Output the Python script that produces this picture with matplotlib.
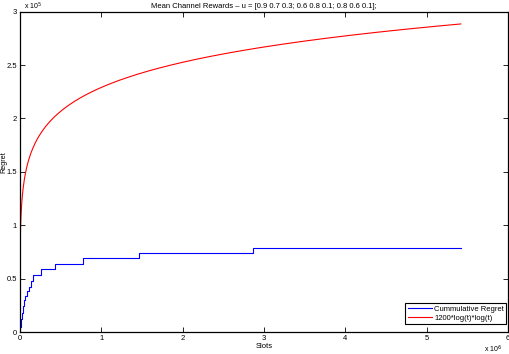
import matplotlib
matplotlib.use('Agg')
import matplotlib.pyplot as plt
import numpy as np
from matplotlib.ticker import FuncFormatter

plt.rcParams['font.family'] = ['Liberation Sans', 'DejaVu Sans']

# cumulative regret: step change times (x1e6 slots) and regret levels (x1e5)
step_t = [0, 0.004, 0.012, 0.025, 0.037, 0.049, 0.065, 0.083, 0.107, 0.132,
          0.164, 0.256, 0.428, 0.774, 1.47, 2.86, 5.42]
step_v = [0, 0.05, 0.12, 0.18, 0.24, 0.30, 0.34, 0.38, 0.42, 0.48,
          0.53, 0.59, 0.64, 0.69, 0.74, 0.79, 0.79]
t_max = 5.42e6

title = 'Mean Channel Rewards \u2013 u = [0.9 0.7 0.3; 0.6 0.8 0.1; 0.8 0.6 0.1];'

t = np.linspace(1, t_max, 2000)
bound = 1200 * np.log(t) * np.log(t)

fig = plt.figure(figsize=(5.10, 3.54), dpi=100)
ax = fig.add_axes([0.039, 0.062, 0.957, 0.905])

ax.plot(np.array(step_t) * 1e6, np.array(step_v) * 1e5, color='blue',
        lw=0.8, drawstyle='steps-post', label='Cummulative Regret')
ax.plot(t, bound, color='red', lw=0.8, label='1200*log(t)*log(t)')

ax.set_xlim(0, 6e6)
ax.set_ylim(0, 3e5)
ax.set_xticks(np.arange(0, 7) * 1e6)
ax.set_yticks(np.arange(0, 3.01, 0.5) * 1e5)
ax.xaxis.set_major_formatter(FuncFormatter(lambda v, p: '%g' % (v / 1e6)))
ax.yaxis.set_major_formatter(FuncFormatter(lambda v, p: '%g' % (v / 1e5)))
ax.tick_params(direction='in', length=3.5, width=0.6, labelsize=5.5,
               top=True, right=True, pad=2)
for s in ax.spines.values():
    s.set_linewidth(0.9)

ax.set_title(title, fontsize=5.5, pad=3)
ax.set_xlabel('Slots', fontsize=5.5, labelpad=1)
ax.set_ylabel('Regret', fontsize=5.2, va='center')
ax.yaxis.set_label_coords(-0.033, 0.53)

fig.text(0.064, 0.982, r'x 10$^5$', fontsize=5, ha='center', va='center')
fig.text(0.967, 0.012, r'x 10$^6$', fontsize=5, ha='center', va='center')

leg = ax.legend(loc='lower right', bbox_to_anchor=(0.997, 0.025), fontsize=5.5,
                fancybox=False, framealpha=1, handlelength=3.2,
                borderpad=0.3, labelspacing=0.2, handletextpad=0.3,
                borderaxespad=0)
leg.get_frame().set_edgecolor('black')
leg.get_frame().set_linewidth(0.8)

fig.savefig('out.png', dpi=100)
